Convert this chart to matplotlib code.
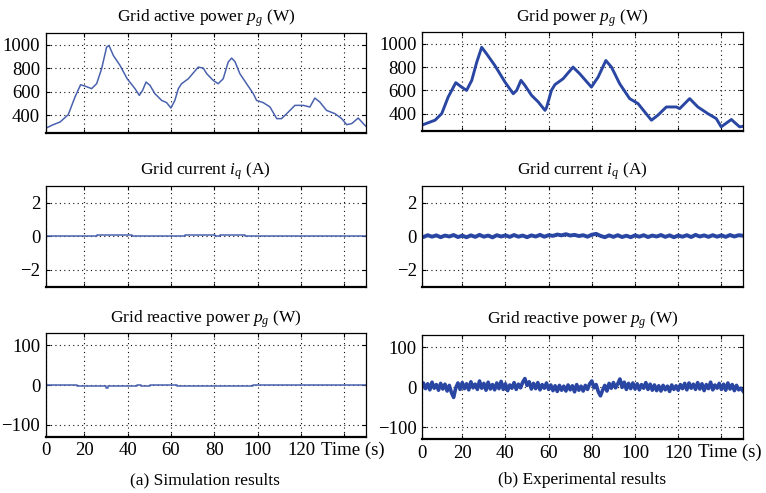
import matplotlib
matplotlib.use("Agg")
import matplotlib.pyplot as plt

plt.rcParams["font.family"] = ["Liberation Serif", "DejaVu Serif"]
plt.rcParams["mathtext.fontset"] = "custom"
plt.rcParams["mathtext.rm"] = "Liberation Serif"
plt.rcParams["mathtext.it"] = "Liberation Serif:italic"
plt.rcParams["font.size"] = 12.5

# --- data ---
# (a) simulation: grid active power
t_p_sim = [0, 1.8, 5.7, 8.8, 12.6, 15.7, 18.3, 20.3, 23.4, 25.7, 28, 30.3, 31.4, 33.4,
           36.5, 39.8, 43.4, 45.4, 46.9, 48.5, 50.3, 52.6, 55.7, 58, 60, 61.8, 63.4,
           64.9, 68, 72.6, 74.9, 76.5, 79.5, 81.8, 84.1, 86.4, 88, 89.5, 91.8, 94.9,
           98, 99.5, 102.6, 105.7, 108.8, 111, 113.4, 117.2, 121, 124.1, 126.4, 128.7,
           131.8, 135.7, 138.8, 141.1, 143.4, 146.4, 149.5, 150.5]
p_sim = [280, 287, 321, 343, 406, 555, 660, 649, 627, 669, 796, 980, 994, 909,
         824, 711, 627, 570, 612, 683, 655, 584, 527, 508, 462, 527, 627,
         669, 711, 810, 802, 754, 697, 669, 711, 852, 887, 858, 754, 669,
         584, 527, 508, 471, 372, 372, 414, 485, 485, 471, 547, 513,
         442, 414, 372, 321, 330, 377, 315, 300]

# (b) experiment: grid power
t_p_exp = [0, 1.2, 7.4, 10.5, 13.5, 17, 19.7, 22, 24.4, 26.7, 29, 31.3, 35.1, 39.8,
           43.6, 45.2, 47.2, 49, 52.1, 55.2, 58.3, 59, 61.3, 62.9, 66.7, 71.3, 74.4,
           79.8, 82.9, 86.5, 89.1, 92.9, 97.5, 101.4, 104.5, 107.6, 110.6, 114.5,
           119.1, 120.7, 125.3, 129.1, 133.7, 137.6, 139.9, 144.6, 148.4, 150]
p_exp = [290, 300, 343, 400, 543, 666, 628, 600, 686, 842, 971, 914, 814, 671,
         571, 600, 686, 643, 557, 500, 428, 450, 600, 649, 700, 800, 743,
         628, 714, 857, 800, 657, 529, 486, 414, 343, 386, 457,
         457, 443, 529, 457, 400, 357, 286, 349, 286, 290]

# (a) simulation: grid current iq (step levels)
t_iq_sim = [0, 25.7, 41.8, 66.5, 80.3, 82.6, 94.1, 150]
iq_sim = [0, 0.08, 0, 0.08, 0, 0.08, 0, 0]

# (b) experiment: grid current iq, every 2 s
t_iq_exp = list(range(0, 151, 2))
iq_exp = [0.02, -0.05, 0.06, -0.03, 0.05, -0.06, 0.04, -0.02, 0.07, -0.05,
          0.03, -0.06, 0.05, -0.04, 0.08, -0.03, 0.04, -0.07, 0.06, -0.02,
          0.05, -0.04, 0.07, -0.03, 0.04, -0.06, 0.05, -0.02, 0.08, -0.03,
          0.06, 0.02, 0.10, 0.05, 0.12, 0.04, 0.08, 0.01, 0.06, -0.03,
          0.09, 0.14, 0.02, -0.06, 0.05, -0.04, 0.06, -0.05, 0.03, -0.06,
          0.05, -0.03, 0.06, -0.05, 0.04, -0.02, 0.07, -0.04, 0.05, -0.06,
          0.04, -0.03, 0.06, -0.05, 0.08, -0.02, 0.05, -0.04, 0.06, -0.03,
          0.05, -0.04, 0.07, -0.02, 0.06, 0.03]

# (a) simulation: reactive power (step levels)
t_q_sim = [0, 16.5, 29.8, 31, 44.5, 46, 50.5, 62.6, 98, 100, 150]
q_sim = [0, -3, -7, -3, 1, -3, -1, -3, 1, 0, 0]

# (b) experiment: reactive power, every 1 s
t_q_exp = list(range(0, 151))
q_exp = [5, -6, 10, -4, 8, -7, 12, -3, 6, -8,
         9, -5, 7, -10, 4, -14, -26, -2, 10, -6,
         11, -4, 8, -7, 13, -2, 7, -6, 15, -3,
         9, -8, 12, -5, 6, -7, 10, -4, 14, -6,
         8, -9, 5, -3, 11, -6, 7, -2, 12, 21,
         4, 13, -5, 9, -4, 11, -7, 6, -3, 10,
         -6, 5, -9, 3, -11, 4, -8, 2, -10, 5,
         -7, 3, -12, 6, -8, 2, -10, 4, -6, 8,
         15, -2, 6, -12, -22, -8, 4, -10, 9, -3,
         11, -2, 8, 20, -1, 12, -6, 9, -4, 10,
         -5, 8, -7, 6, -3, 11, -6, 7, -8, 5,
         -9, 3, -10, 4, -7, 2, -11, 5, -6, 3,
         -8, 6, -4, 9, -7, 10, -3, 7, -6, 11,
         -5, 8, -9, 6, -4, 12, -7, 5, -3, 9,
         -6, 7, -8, 10, -5, 6, -9, 4, -7, -3,
         -10]

x_ticks = [20, 40, 60, 80, 100, 120, 140]
x_labels = ["20", "40", "60", "80", "100", "120", ""]

sim_color = "#4a62ae"
exp_color = "#2a46a3"
tick_fs = 13.5
title_fs = 12.5

fig = plt.figure(figsize=(7.66, 4.93), dpi=100)


def rect(left, top, right, bottom):
    W, H = 766.0, 493.0
    return [left / W, 1 - bottom / H, (right - left) / W, (bottom - top) / H]


def style_axis(ax, x0, ylim, yticks, title, show_x):
    ax.set_xlim(x0, 150)
    ax.set_ylim(*ylim)
    ax.set_yticks(yticks)
    ax.set_xticks([x0] + x_ticks)
    if show_x:
        ax.set_xticklabels(["0"] + x_labels)
        ax.text(143.8, -0.13, "Time (s)", transform=ax.get_xaxis_transform(),
                ha="center", va="center", fontsize=tick_fs)
    else:
        ax.set_xticklabels([])
    ax.grid(True, color="#111111", linestyle=(0, (1, 3)), linewidth=0.8)
    ax.tick_params(direction="in", length=3, width=0.8, top=True, right=True,
                   pad=4, labelsize=tick_fs)
    for s in ax.spines.values():
        s.set_linewidth(0.9)
    ax.spines["bottom"].set_linewidth(1.6)
    ax.set_title(title, fontsize=title_fs, pad=8)


# left column (simulation)
ax = fig.add_axes(rect(45.7, 33, 366, 133))
ax.plot(t_p_sim, p_sim, color=sim_color, lw=1.1)
style_axis(ax, 2.2, (250, 1100), [400, 600, 800, 1000], r"Grid active power $p_g$ (W)", False)

ax = fig.add_axes(rect(45.7, 185.7, 366, 286.7))
ax.step(t_iq_sim, iq_sim, where="post", color=sim_color, lw=1.1)
style_axis(ax, 2.2, (-3, 3), [-2, 0, 2], r"Grid current $i_q$ (A)", False)

ax = fig.add_axes(rect(45.7, 333.3, 366, 436.7))
ax.step(t_q_sim, q_sim, where="post", color=sim_color, lw=1.1)
style_axis(ax, 2.2, (-130, 130), [-100, 0, 100], r"Grid reactive power $p_g$ (W)", True)

# right column (experiment)
ax = fig.add_axes(rect(422.3, 32.3, 743, 131))
ax.plot(t_p_exp, p_exp, color=exp_color, lw=2.1)
style_axis(ax, 1.5, (250, 1100), [400, 600, 800, 1000], r"Grid power $p_g$ (W)", False)

ax = fig.add_axes(rect(422.3, 185.7, 743, 286.7))
ax.plot(t_iq_exp, iq_exp, color=exp_color, lw=2.8)
style_axis(ax, 1.5, (-3, 3), [-2, 0, 2], r"Grid current $i_q$ (A)", False)

ax = fig.add_axes(rect(422.3, 335, 743, 439))
ax.plot(t_q_exp, q_exp, color=exp_color, lw=2.6)
style_axis(ax, 1.5, (-130, 130), [-100, 0, 100], r"Grid reactive power $p_g$ (W)", True)

fig.text(205 / 766, 1 - 480 / 493, "(a) Simulation results", ha="center", va="center", fontsize=title_fs)
fig.text(582 / 766, 1 - 480 / 493, "(b) Experimental results", ha="center", va="center", fontsize=title_fs)

fig.savefig("out.png", dpi=100)
